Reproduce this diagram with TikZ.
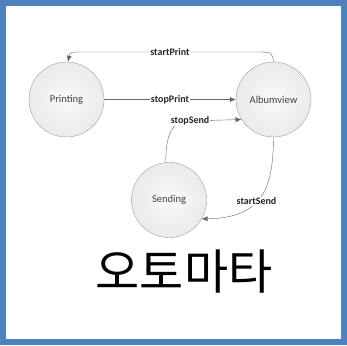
\documentclass[tikz,border=0pt]{standalone}
\usepackage{fontspec}
\setmainfont{Carlito}
\newfontfamily\krfont{Noto Sans CJK KR}
\usetikzlibrary{arrows.meta}

\definecolor{frameblue}{RGB}{79,129,189}

\tikzset{
  state/.style={circle,draw=gray!75,inner color=gray!4,outer color=gray!16,minimum size=75pt,inner sep=0pt,
    font=\fontsize{10.5}{12}\selectfont,text=black!75},
  trans/.style={draw=black!60,-{Latex[length=6pt,width=5pt]}},
  lbl/.style={fill=white,inner sep=1pt,font=\bfseries\fontsize{10}{11}\selectfont,text=black!85}
}

\begin{document}
\begin{tikzpicture}[x=1pt,y=-1pt]
    \useasboundingbox (0,0) rectangle (347,345);
    \draw[frameblue,line width=6pt] (3,3) rectangle (344,342);

    % states
    \node[state] (print) at (66.5,99.5) {Printing};
    \node[state] (album) at (273.5,99.5) {Albumview};
    \node[state] (send) at (169,200) {Sending};

    % transitions
    \draw[trans] (album.north) .. controls (272,52) .. (255,52)
        -- node[lbl] {startPrint} (85,52) .. controls (70,52) .. ([xshift=1.5pt]print.north);
    \draw[trans] (print) -- node[lbl] {stopPrint} (album);
    \draw[trans] (send.95) .. controls (166,133) and (172,121) .. (190,121)
        node[lbl] {stopSend} -- (album.212);
    \draw[trans] (album.south) .. controls (273,185) and (265,218) .. (send.-30)
        node[lbl,pos=0.57] {startSend};

    \node[font=\krfont\fontsize{48}{52}\selectfont] (title) at (184,272) {오토마타};
\end{tikzpicture}
\end{document}
